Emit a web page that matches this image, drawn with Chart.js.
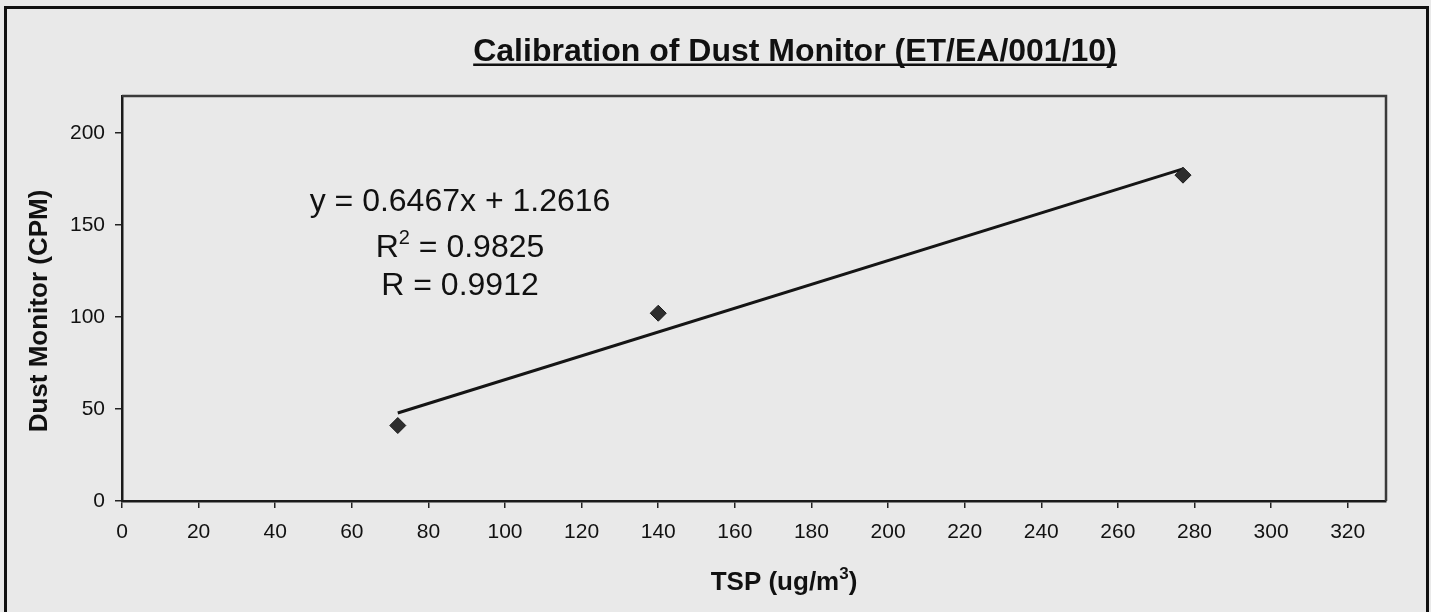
<!DOCTYPE html>
<html>
<head>
<meta charset="utf-8">
<script src="https://cdn.jsdelivr.net/npm/chart.js@4"></script>
<style>
  html, body { margin: 0; padding: 0; background: #e9e9e9; }
  #wrap { width: 1431px; height: 612px; }
</style>
</head>
<body>
<div id="wrap"><canvas id="calib"></canvas></div>
<script>
const tspValues = [72, 140, 277];
const dustValues = [41, 102, 177];
const trendSlope = 0.6467;
const trendIntercept = 1.2616;
const equationLines = ['y = 0.6467x + 1.2616', 'R2 = 0.9825', 'R = 0.9912'];
const chartTitle = 'Calibration of Dust Monitor (ET/EA/001/10)';
const xTitle = 'TSP (ug/m3)';
const yTitle = 'Dust Monitor (CPM)';

const points = tspValues.map((x, i) => ({ x: x, y: dustValues[i] }));
const xMin = Math.min(...tspValues);
const xMax = Math.max(...tspValues);
const trend = [
  { x: xMin, y: trendSlope * xMin + trendIntercept },
  { x: xMax, y: trendSlope * xMax + trendIntercept }
];

const FONT = '"Liberation Sans", Arial, sans-serif';

// draws "base" + superscript + rest, starting at x
function supText(ctx, parts, x, y, size, supSize, rise) {
  ctx.font = parts.bold ? `bold ${size}px ${FONT}` : `${size}px ${FONT}`;
  ctx.fillText(parts.a, x, y);
  x += ctx.measureText(parts.a).width;
  ctx.font = parts.bold ? `bold ${supSize}px ${FONT}` : `${supSize}px ${FONT}`;
  ctx.fillText(parts.sup, x, y - rise);
  x += ctx.measureText(parts.sup).width;
  ctx.font = parts.bold ? `bold ${size}px ${FONT}` : `${size}px ${FONT}`;
  ctx.fillText(parts.b, x, y);
}

function supWidth(ctx, parts, size, supSize) {
  let w = 0;
  ctx.font = parts.bold ? `bold ${size}px ${FONT}` : `${size}px ${FONT}`;
  w += ctx.measureText(parts.a).width + ctx.measureText(parts.b).width;
  ctx.font = parts.bold ? `bold ${supSize}px ${FONT}` : `${supSize}px ${FONT}`;
  w += ctx.measureText(parts.sup).width;
  return w;
}

const frame = {
  id: 'frame',
  beforeDraw(chart) {
    const { ctx } = chart;
    ctx.save();
    ctx.fillStyle = '#e9e9e9';
    ctx.fillRect(0, 0, chart.width, chart.height);
    ctx.strokeStyle = '#111';
    ctx.lineWidth = 3;
    ctx.strokeRect(5.5, 7.5, 1422, 700);
    ctx.restore();
  },
  beforeDatasetsDraw(chart) {
    const { ctx, chartArea: a } = chart;
    ctx.save();
    ctx.strokeStyle = '#3a3a3a';
    ctx.lineWidth = 2.5;
    ctx.beginPath();
    ctx.moveTo(a.left, a.top);
    ctx.lineTo(a.right, a.top);
    ctx.lineTo(a.right, a.bottom);
    ctx.stroke();
    ctx.restore();
  },
  afterDraw(chart) {
    const { ctx } = chart;
    ctx.save();
    ctx.fillStyle = '#111';
    ctx.textBaseline = 'alphabetic';

    // title, underlined
    ctx.font = `bold 32px ${FONT}`;
    ctx.textAlign = 'left';
    const tw = ctx.measureText(chartTitle).width;
    const tx = 795 - tw / 2;
    ctx.fillText(chartTitle, tx, 61);
    ctx.fillRect(tx, 63.5, tw, 2.5);

    // regression text
    const cx = 460;
    ctx.font = `32px ${FONT}`;
    ctx.textAlign = 'center';
    ctx.fillText(equationLines[0], cx, 211);
    ctx.textAlign = 'left';
    const r2 = { a: equationLines[1].slice(0, 1), sup: equationLines[1].slice(1, 2), b: equationLines[1].slice(2), bold: false };
    const w2 = supWidth(ctx, r2, 32, 20);
    supText(ctx, r2, cx - w2 / 2, 257, 32, 20, 13);
    ctx.font = `32px ${FONT}`;
    ctx.textAlign = 'center';
    ctx.fillText(equationLines[2], cx, 295);

    // x axis title
    ctx.textAlign = 'left';
    const xt = { a: xTitle.slice(0, 9), sup: xTitle.slice(9, 10), b: xTitle.slice(10), bold: true };
    const wx = supWidth(ctx, xt, 26, 17);
    supText(ctx, xt, 784 - wx / 2, 590, 26, 17, 11);

    // y axis title
    ctx.translate(47, 311);
    ctx.rotate(-Math.PI / 2);
    ctx.font = `bold 26px ${FONT}`;
    ctx.textAlign = 'center';
    ctx.fillText(yTitle, 0, 0);
    ctx.restore();
  }
};

new Chart(document.getElementById('calib'), {
  data: {
    datasets: [{
      type: 'scatter',
      label: 'Dust',
      data: points,
      pointStyle: 'rectRot',
      pointRadius: 8,
      pointHoverRadius: 8,
      backgroundColor: '#2e2e2e',
      borderColor: '#1a1a1a',
      borderWidth: 1,
      order: 0
    }, {
      type: 'line',
      label: 'Trend',
      data: trend,
      borderColor: '#151515',
      borderWidth: 3,
      pointRadius: 0,
      fill: false,
      order: 1
    }]
  },
  options: {
    animation: false,
    responsive: true,
    maintainAspectRatio: false,
    events: [],
    layout: {
      padding: { left: 0, top: 96, right: 45, bottom: 0 }
    },
    plugins: {
      legend: { display: false },
      tooltip: { enabled: false }
    },
    scales: {
      x: {
        type: 'linear',
        min: 0,
        max: 330,
        afterFit(scale) { scale.height = 111; },
        grid: { drawOnChartArea: false, tickLength: 7, color: '#222', lineWidth: 1.5 },
        border: { color: '#1a1a1a', width: 2.5 },
        ticks: {
          stepSize: 20,
          includeBounds: false,
          padding: 12,
          color: '#111',
          maxRotation: 0,
          font: { family: FONT, size: 21 }
        }
      },
      y: {
        type: 'linear',
        min: 0,
        max: 220,
        afterFit(scale) { scale.width = 122; },
        grid: { drawOnChartArea: false, tickLength: 7, color: '#222', lineWidth: 1.5 },
        border: { color: '#1a1a1a', width: 2.5 },
        ticks: {
          stepSize: 50,
          includeBounds: false,
          padding: 10,
          color: '#111',
          font: { family: FONT, size: 21 }
        }
      }
    }
  },
  plugins: [frame]
});
</script>
</body>
</html>
